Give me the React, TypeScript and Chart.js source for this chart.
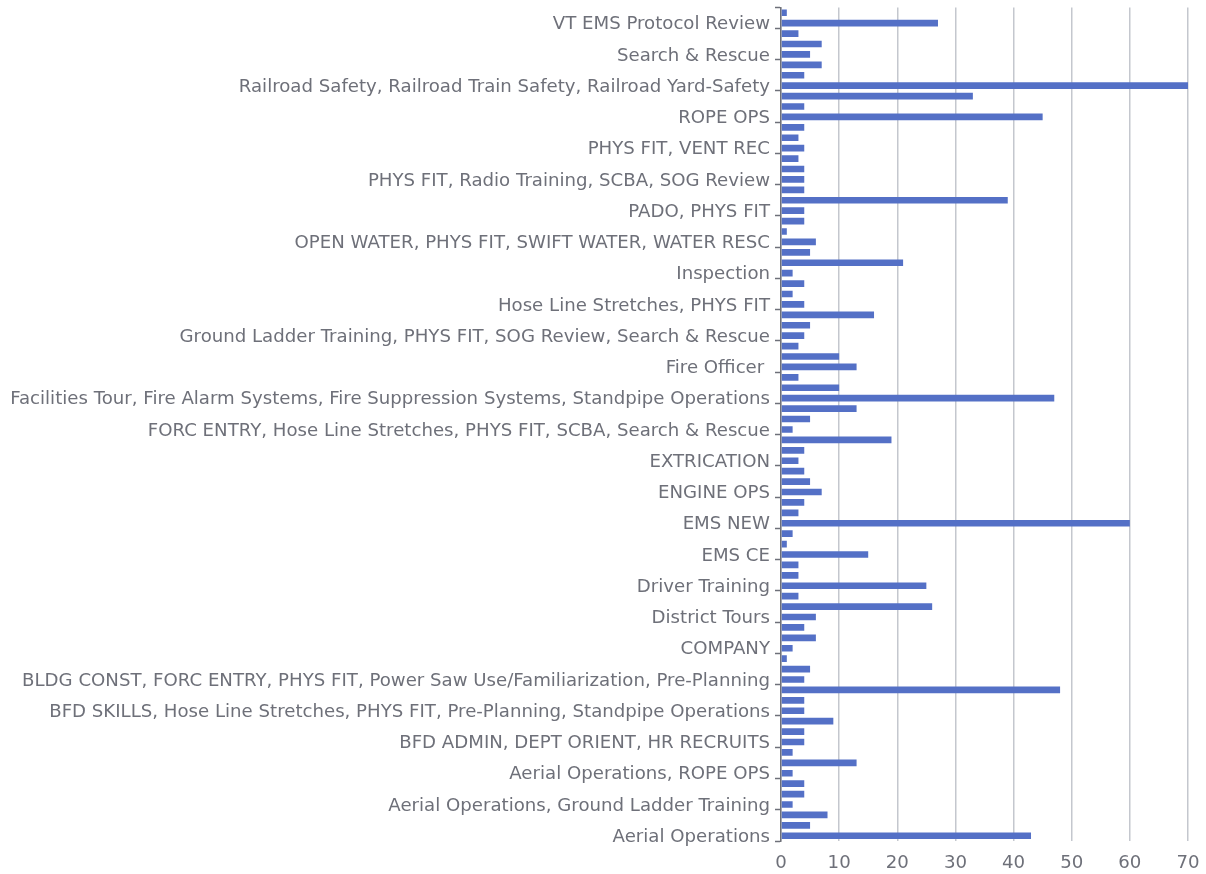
import React, { useEffect, useRef } from 'react';
import { Chart, registerables } from 'chart.js';

Chart.register(...registerables);

// Categories in alphabetical order (index 0 is drawn at the bottom)
const categories: string[] = [
  'Aerial Operations',
  'Aerial Operations, BFD SKILLS',
  'Aerial Operations, EMS CE',
  'Aerial Operations, Ground Ladder Training',
  'Aerial Operations, Hose Line Stretches',
  'Aerial Operations, PHYS FIT',
  'Aerial Operations, ROPE OPS',
  'Aerial Operations, SCBA',
  'BFD ADMIN',
  'BFD ADMIN, DEPT ORIENT, HR RECRUITS',
  'BFD ADMIN, HR RECRUITS',
  'BFD SKILLS',
  'BFD SKILLS, Hose Line Stretches, PHYS FIT, Pre-Planning, Standpipe Operations',
  'BFD SKILLS, PHYS FIT',
  'BLDG CONST',
  'BLDG CONST, FORC ENTRY, PHYS FIT, Power Saw Use/Familiarization, Pre-Planning',
  'BLDG CONST, PHYS FIT',
  'CAFS Operations',
  'COMPANY',
  'COMPANY, PHYS FIT',
  'DEPT ORIENT',
  'District Tours',
  'District Tours, PHYS FIT',
  'Driver Operator',
  'Driver Training',
  'Driver Training, PHYS FIT',
  'EMS',
  'EMS CE',
  'EMS CE, PHYS FIT',
  'EMS CON ED',
  'EMS NEW',
  'EMS NEW, PHYS FIT',
  'ENGINE COMPANY',
  'ENGINE OPS',
  'ENGINE OPS, PHYS FIT',
  'EVOC',
  'EXTRICATION',
  'EXTRICATION, PHYS FIT',
  'FORC ENTRY',
  'FORC ENTRY, Hose Line Stretches, PHYS FIT, SCBA, Search & Rescue',
  'FORC ENTRY, PHYS FIT',
  'Facilities Tour',
  'Facilities Tour, Fire Alarm Systems, Fire Suppression Systems, Standpipe Operations',
  'Facilities Tour, PHYS FIT',
  'Fire Alarm Systems',
  'Fire Officer ',
  'Fire Officer, PHYS FIT',
  'Fire Suppression Systems',
  'Ground Ladder Training, PHYS FIT, SOG Review, Search & Rescue',
  'Hazmat Awareness',
  'Hose Line Stretches',
  'Hose Line Stretches, PHYS FIT',
  'Hose Line Stretches, SCBA',
  'Hydrant Maintenance',
  'Inspection',
  'Inspection, PHYS FIT',
  'Ladder Operations',
  'OPEN WATER, PHYS FIT, SWIFT WATER, WATER RESC',
  'OPEN WATER, SWIFT WATER',
  'PADO',
  'PADO, PHYS FIT',
  'PHYS FIT',
  'PHYS FIT, Pre-Planning',
  'PHYS FIT, Radio Training, SCBA, SOG Review',
  'PHYS FIT, SCBA',
  'PHYS FIT, SOG Review',
  'PHYS FIT, VENT REC',
  'PHYS FIT, WATER RESC',
  'Pre-Planning',
  'ROPE OPS',
  'ROPE OPS, PHYS FIT',
  'Radio Training',
  'Railroad Safety, Railroad Train Safety, Railroad Yard-Safety',
  'SCBA',
  'SOG Review',
  'Search & Rescue',
  'Search & Rescue, PHYS FIT',
  'Standpipe Operations',
  'VT EMS Protocol Review',
  'Water Rescue',
];

// Count per category, same order as categories
const counts: number[] = [
  43, 5, 8, 2, 4, 4, 2, 13, 2, 4,
  4, 9, 4, 4, 48, 4, 5, 1, 2, 6,
  4, 6, 26, 3, 25, 3, 3, 15, 1, 2,
  60, 3, 4, 7, 5, 4, 3, 4, 19, 2,
  5, 13, 47, 10, 3, 13, 10, 3, 4, 5,
  16, 4, 2, 4, 2, 21, 5, 6, 1, 4,
  4, 39, 4, 4, 4, 3, 4, 3, 4, 45,
  4, 33, 70, 4, 7, 5, 7, 3, 27, 1,
];

const xMin = 0;
const xMax = 70;
const xStep = 10;
const labelEvery = 3;

export default function App() {
  const canvasRef = useRef<HTMLCanvasElement>(null);

  useEffect(() => {
    if (!canvasRef.current) return;
    const font = { family: '"DejaVu Sans", sans-serif', size: 18.15 };
    const chart = new Chart(canvasRef.current, {
      type: 'bar',
      data: {
        labels: categories,
        datasets: [
          {
            data: counts,
            backgroundColor: '#5470c6',
            categoryPercentage: 1,
            barPercentage: 0.64,
          },
        ],
      },
      options: {
        indexAxis: 'y',
        animation: false,
        responsive: true,
        maintainAspectRatio: false,
        layout: { padding: { left: 8, top: 7.5, right: 18, bottom: 3 } },
        plugins: { legend: { display: false }, tooltip: { enabled: false } },
        scales: {
          y: {
            reverse: true,
            afterFit: (s: any) => {
              s.width = 773;
              s.paddingTop = 0;
              s.paddingBottom = 0;
            },
            ticks: {
              autoSkip: false,
              color: '#6E7079',
              font,
              padding: 5,
              labelOffset: 1.5,
              callback: (_v: any, i: number) => (i % labelEvery === 0 ? categories[i] : ''),
            },
            grid: {
              drawOnChartArea: false,
              tickLength: 6,
              tickWidth: 1.5,
              tickColor: (ctx: any) =>
                ctx.type !== 'tick' || ctx.index % labelEvery === 0 ? '#6E7079' : 'rgba(0,0,0,0)',
            },
            border: { color: '#6E7079', width: 1.5 },
          },
          x: {
            min: xMin,
            max: xMax,
            afterFit: (s: any) => {
              s.paddingLeft = 0;
              s.paddingRight = 0;
              s.height = 30;
            },
            ticks: { stepSize: xStep, color: '#6E7079', font, padding: 11 },
            grid: { color: '#c4c7ce', lineWidth: 1.5, drawTicks: false },
            border: { display: false },
          },
        },
      },
    });
    return () => chart.destroy();
  }, []);

  return (
    <div style={{ position: 'absolute', left: 0, top: 0, width: 1206, height: 874 }}>
      <canvas ref={canvasRef} />
    </div>
  );
}
